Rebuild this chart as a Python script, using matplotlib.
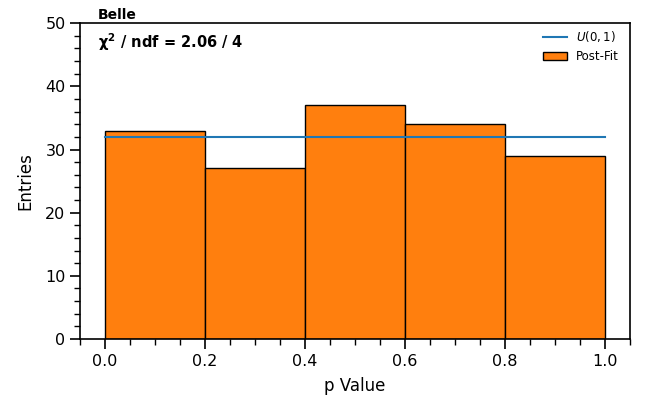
import numpy as np
import matplotlib
matplotlib.use("Agg")
import matplotlib.pyplot as plt
from matplotlib.ticker import MultipleLocator

# p-value histogram after fit
bin_edges = [0.0, 0.2, 0.4, 0.6, 0.8, 1.0]
counts = [33, 27, 37, 34, 29]
uniform_level = 32
chi2_text = r"$\mathbf{\chi^2}$ / ndf = 2.06 / 4"

fig, ax = plt.subplots(figsize=(6.46, 4.07), dpi=100)
fig.subplots_adjust(left=0.124, right=0.975, top=0.943, bottom=0.167)

ax.hist(bin_edges[:-1], bins=bin_edges, weights=counts, color="#ff7f0e",
        edgecolor="black", linewidth=1.0, label="Post-Fit")
ax.plot([bin_edges[0], bin_edges[-1]], [uniform_level, uniform_level],
        color="#1f77b4", linewidth=1.5, label=r"$U(0, 1)$")

ax.set_xlim(-0.05, 1.05)
ax.set_ylim(0, 50)
ax.xaxis.set_major_locator(MultipleLocator(0.2))
ax.xaxis.set_minor_locator(MultipleLocator(0.05))
ax.yaxis.set_major_locator(MultipleLocator(10))
ax.yaxis.set_minor_locator(MultipleLocator(2))
ax.tick_params(which="major", direction="out", length=7, width=1.2, labelsize=11.5)
ax.tick_params(which="minor", direction="out", length=4, width=1.0)
for s in ax.spines.values():
    s.set_linewidth(1.2)

ax.set_xlabel("p Value", fontsize=12, labelpad=6)
ax.set_ylabel("Entries", fontsize=12, labelpad=8)

ax.text(0.033, 1.005, "Belle", transform=ax.transAxes, fontsize=10,
        fontweight="bold", va="bottom", ha="left")
ax.text(0.033, 0.975, chi2_text, transform=ax.transAxes, fontsize=10.5,
        fontweight="bold", va="top", ha="left")

handles, labels = ax.get_legend_handles_labels()
ax.legend(handles[::-1], labels[::-1], loc="upper right", frameon=False,
          fontsize=8.5, bbox_to_anchor=(1.0, 1.015))

fig.savefig("out.png", dpi=100)
